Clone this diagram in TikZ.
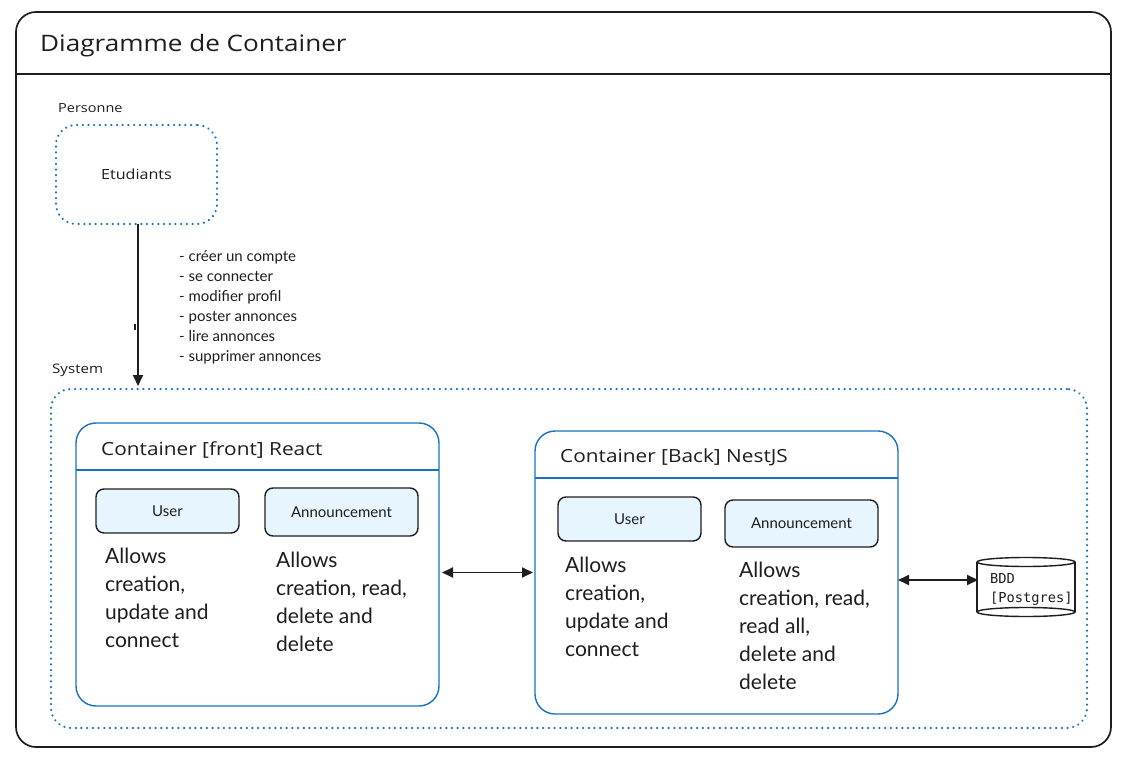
\documentclass[tikz,border=0pt]{standalone}
\usepackage{fontspec}
\setmainfont{Lato}
\newfontfamily\handfont[FakeStretch=1.15]{Open Sans}
\newfontfamily\monohand{DejaVu Sans Mono}
\usetikzlibrary{arrows.meta}
\definecolor{ink}{HTML}{1E1E1E}
\definecolor{exblue}{HTML}{1971C2}
\definecolor{exfill}{HTML}{E7F5FF}
\begin{document}
\begin{tikzpicture}[x=1pt,y=-1pt,
  boxnw/.style={anchor=north west, inner sep=0pt, outer sep=0pt},
  dotbox/.style={boxnw, draw=exblue, line width=2.1pt, dash pattern=on 0.4pt off 5.3pt, line cap=round, rounded corners=20pt},
  contbox/.style={boxnw, draw=exblue, line width=1.4pt, rounded corners=20pt},
  compbox/.style={boxnw, draw=ink, fill=exfill, line width=1.4pt, rounded corners=8pt, text=ink, font=\fontsize{15}{17}\selectfont},
  txt/.style={anchor=base west, inner sep=0pt, text=ink},
  desc/.style={anchor=north west, inner sep=0pt, text=ink, align=left, font=\fontsize{21}{28}\selectfont},
  conn/.style={draw=ink, line width=1.8pt},
  tip/.style={-{Triangle[length=11pt,width=10pt]}},
  dtip/.style={{Triangle[length=11pt,width=10pt]}-{Triangle[length=11pt,width=10pt]}}
]
\useasboundingbox (0,0) rectangle (1124,759);
\fill[white] (0,0) rectangle (1124,759);

% outer frame
\node[boxnw, draw=ink, line width=1.7pt, rounded corners=20pt, minimum width=1095pt, minimum height=735pt] (frame) at (16,12) {};
\draw[ink, line width=1.7pt] (16,74) -- (1111,74);
\node[txt, font=\handfont\fontsize{22.7}{26}\selectfont] (title) at (40,52) {Diagramme de Container};

% person
\node[txt, font=\handfont\fontsize{12.6}{14}\selectfont] (perslbl) at (58,113) {Personne};
\node[dotbox, minimum width=161pt, minimum height=99pt, font=\handfont\fontsize{14}{16}\selectfont, text=ink] (etud) at (56,125) {Etudiants};

% system boundary
\node[txt, font=\handfont\fontsize{13.1}{15}\selectfont] (syslbl) at (52,373) {System};
\node[dotbox, minimum width=1036pt, minimum height=339pt] (sys) at (51,389) {};

% actions arrow
\coordinate (arrend) at (138,386);
\draw[conn, tip] (etud.south -| arrend) -- (arrend);
\draw[ink, line width=1.2pt] (135,324) -- (135,330);
\node[anchor=north west, inner sep=0pt, text=ink, align=left, font=\fontsize{15}{20}\selectfont] (actions) at (179,250)
  {- créer un compte\\- se connecter\\- modifier profil\\- poster annonces\\- lire annonces\\- supprimer annonces};

% front container
\node[contbox, minimum width=363pt, minimum height=283pt] (front) at (76,423) {};
\draw[exblue, line width=1.4pt] (76,470) -- (439,470);
\node[txt, font=\handfont\fontsize{18.1}{20}\selectfont] (fronttitle) at (101,455) {Container [front] React};
\node[compbox, minimum width=143pt, minimum height=44pt] (fuser) at (96,489) {User};
\node[compbox, minimum width=153pt, minimum height=48pt] (fann) at (265,488) {Announcement};
\node[desc] (fuserd) at (105,548) {Allows\\creation,\\update and\\connect};
\node[desc] (fannd) at (276,552) {Allows\\creation, read,\\delete and\\delete};

% back container
\node[contbox, minimum width=363pt, minimum height=283pt] (back) at (535,431) {};
\draw[exblue, line width=1.4pt] (535,478) -- (898,478);
\node[txt, font=\handfont\fontsize{18.1}{20}\selectfont] (backtitle) at (560,462) {Container [Back] NestJS};
\node[compbox, minimum width=143pt, minimum height=44pt] (buser) at (558,497) {User};
\node[compbox, minimum width=153pt, minimum height=47pt] (bann) at (725,500) {Announcement};
\node[desc] (buserd) at (565,557) {Allows\\creation,\\update and\\connect};
\node[desc] (band) at (739,562) {Allows\\creation, read,\\read all,\\delete and\\delete};

% database
\node[boxnw, minimum width=98pt, minimum height=50pt] (bdd) at (977,562) {};
\draw[ink, line width=1.4pt] (bdd.north west) -- (bdd.south west) (bdd.north east) -- (bdd.south east);
\draw[ink, line width=1.4pt] (bdd.south) ellipse [x radius=49pt, y radius=4.5pt];
\draw[ink, line width=1.4pt] (bdd.north) ellipse [x radius=49pt, y radius=4.5pt];
\node[anchor=north west, inner sep=0pt, text=ink, align=left, font=\monohand\fontsize{13.7}{19}\selectfont] (bddtxt) at (990,573) {BDD\\{}[Postgres]};

% connectors
\draw[conn, dtip] ([xshift=3pt]front.east |- back.west) -- ([xshift=-2pt]back.west);
\coordinate (dbin) at (978,580);
\draw[conn, dtip] (back.east |- dbin) -- (dbin);
\end{tikzpicture}
\end{document}
